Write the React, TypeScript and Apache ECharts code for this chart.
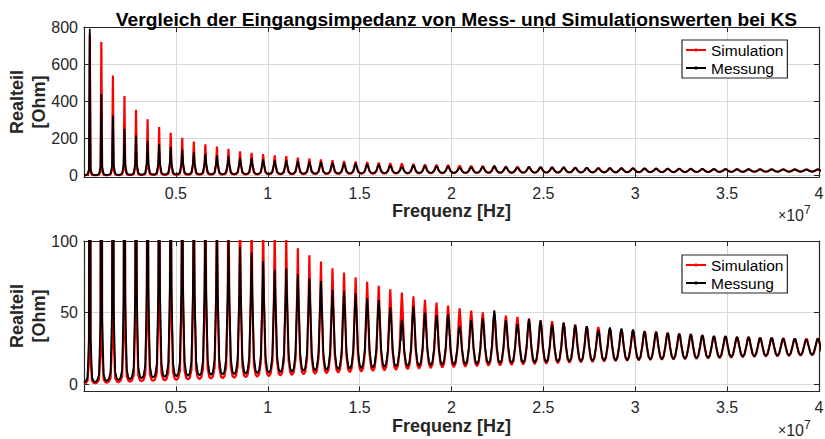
import React, { useEffect, useRef } from "react";
import * as echarts from "echarts";

// Resonance peak frequencies (unit: 1e7 Hz)
const peakFreq = [0.0315,0.0944,0.1573,0.2202,0.2831,0.3460,0.4089,0.4718,0.5347,0.5976,0.6605,0.7234,0.7863,0.8492,0.9121,0.9750,1.0379,1.1008,1.1637,1.2266,1.2895,1.3524,1.4153,1.4782,1.5411,1.6040,1.6669,1.7298,1.7927,1.8556,1.9185,1.9814,2.0443,2.1072,2.1701,2.2330,2.2959,2.3588,2.4217,2.4846,2.5475,2.6104,2.6733,2.7362,2.7991,2.8620,2.9249,2.9878,3.0507,3.1136,3.1765,3.2394,3.3023,3.3652,3.4281,3.4910,3.5539,3.6168,3.6797,3.7426,3.8055,3.8684,3.9313,3.9942];

// Simulation (red): peak, trough after the peak, and flank readings near / shoulder / foot of each peak
const simStart = 0.6;
const simPeak = [760,719,539,428,354,302,261,230,203,182,168,155,143,130,121,114,108,103,95,90,85.6,81,78,74.6,71.6,68.8,66.3,64,61.5,59,57,55,53,51.5,50.3,49.5,48,47,46,44.8,44,42.8,41.7,40.6,40,39,38.2,37.8,37,36.6,36,35.4,35,34.3,33.8,33.6,33.1,33,32.6,32.5,32.2,32,32,32];
const simTrough = [0.8,1.2,1.5,1.9,2.2,2.5,2.8,3.1,3.4,3.7,4.0,4.3,4.6,4.9,5.3,5.7,6.1,6.5,6.9,7.3,7.7,8.1,8.5,8.9,9.3,9.7,10.1,10.5,10.9,11.3,11.7,12.0,12.3,12.6,12.9,13.2,13.5,13.8,14.1,14.4,14.7,15.0,15.3,15.6,15.9,16.2,16.5,16.8,17.0,17.2,17.4,17.6,17.8,18.0,18.3,18.6,18.9,19.2,19.4,19.6,19.8,20.0,20.2,20.4];
const simNear = [16.5,24.4,29.9,36.7,41.2,45.1,48.5,51.4,53.6,55.3,57.0,58.2,58.9,58.8,59.4,59.9,60.2,60.4,59.2,58.5,57.8,56.7,56.2,55.1,54.3,53.4,52.5,51.5,50.4,49.2,48.1,47.0,45.8,44.9,44.2,43.8,42.8,42.2,41.5,40.7,40.2,39.3,38.5,37.7,37.3,36.6,36.0,35.7,35.0,34.7,34.3,33.8,33.5,32.9,32.5,32.4,32.0,31.9,31.6,31.5,31.3,31.1,31.1,31.2];
const simShoulder = [2.3,3.5,4.3,5.5,6.3,7.1,7.9,8.7,9.5,10.3,11.1,11.8,12.5,13.2,14.2,15.1,15.9,16.8,17.6,18.3,19.0,19.7,20.4,21.0,21.6,22.2,22.7,23.2,23.6,24.0,24.4,24.6,24.7,24.9,25.1,25.4,25.5,25.7,25.8,25.9,26.1,26.1,26.1,26.1,26.3,26.2,26.3,26.4,26.3,26.3,26.3,26.2,26.2,26.1,26.1,26.3,26.3,26.4,26.4,26.5,26.5,26.5,26.6,26.7];
const simFoot = [1.0,1.5,1.9,2.4,2.8,3.1,3.5,3.9,4.3,4.6,5.0,5.4,5.7,6.1,6.6,7.1,7.6,8.1,8.5,9.0,9.5,9.9,10.4,10.9,11.3,11.8,12.2,12.7,13.1,13.6,14.0,14.3,14.6,14.9,15.2,15.5,15.8,16.1,16.4,16.7,17.0,17.3,17.6,17.9,18.2,18.4,18.7,19.0,19.1,19.3,19.5,19.6,19.8,20.0,20.2,20.5,20.7,21.0,21.2,21.3,21.5,21.7,21.9,22.0];

// Messung (black)
const measStart = 1.2;
const measPeak = [790,438,322,250,215,187,168,153,139,126,116,108,102,96,92,86,80,81,77,74,72,66,65,63.5,60,58.8,53.7,45,54.5,50,48.3,49,40.6,44.8,46,51.7,44.8,42,45.5,44.4,41.8,43.2,41.3,40.6,37.8,39.6,38.9,38.2,37.3,36.6,36,35.4,35,34.3,33.6,33.6,33.1,33,32.6,32.6,32,32,31.2,32];
const measTrough = [1.6,2.4,3.0,3.6,4.2,4.7,5.1,5.5,5.9,6.2,6.5,6.8,7.0,7.3,7.7,8.0,8.4,8.8,9.2,9.6,10.0,10.4,10.8,11.2,11.6,12.0,12.3,12.6,12.9,13.2,13.5,13.8,14.0,14.2,14.4,14.6,14.8,15.0,15.2,15.4,15.6,15.8,16.0,16.2,16.4,16.6,16.8,17.0,17.2,17.4,17.6,17.8,18.0,18.3,18.6,18.9,19.2,19.4,19.6,19.8,20.0,20.2,20.4,20.6];
const measNear = [32.4,45.5,53.2,58.8,63.5,65.8,66.7,67.3,67.1,65.7,64.5,63.3,62.0,60.9,60.5,58.8,56.9,58.3,57.0,56.1,55.6,52.6,52.5,52.0,50.1,49.6,46.3,40.1,47.3,44.2,43.0,43.7,37.2,40.6,41.7,46.1,40.9,38.7,41.6,40.8,38.7,39.9,38.4,37.9,35.6,37.2,36.6,36.1,35.3,34.8,34.3,33.8,33.5,32.9,32.4,32.4,32.0,31.9,31.6,31.6,31.1,31.1,30.4,31.2];
const measShoulder = [4.6,6.9,8.5,10.1,11.7,13.0,14.0,14.9,15.8,16.4,17.0,17.6,17.9,18.5,19.2,19.7,20.3,21.1,21.7,22.3,22.9,23.2,23.8,24.3,24.6,25.0,24.8,23.8,25.8,25.5,25.5,26.0,24.5,25.7,26.2,27.5,26.3,25.9,26.9,26.9,26.5,27.0,26.7,26.7,26.1,26.8,26.7,26.7,26.6,26.5,26.4,26.4,26.4,26.3,26.3,26.5,26.5,26.6,26.5,26.6,26.5,26.6,26.4,26.9];
const measFoot = [2.0,3.0,3.8,4.5,5.3,5.9,6.4,6.9,7.4,7.7,8.1,8.4,8.7,9.0,9.5,9.8,10.3,10.8,11.2,11.7,12.2,12.6,13.0,13.5,13.9,14.4,14.6,14.8,15.3,15.6,15.9,16.2,16.2,16.5,16.8,17.1,17.2,17.3,17.6,17.8,17.9,18.2,18.3,18.5,18.6,18.9,19.0,19.2,19.3,19.5,19.7,19.8,20.0,20.2,20.5,20.8,21.0,21.2,21.4,21.5,21.7,21.9,22.0,22.2];
// measurement glitches [freq, value]
const measExtra = [[1.7225, 31.8], [1.7245, 30.5], [1.9895, 34.5], [1.992, 33.8]];

// Tick values / labels
const xTicks = [0.5, 1, 1.5, 2, 2.5, 3, 3.5, 4];
const yTicksTop = [0, 200, 400, 600, 800];
const yTicksBottom = [0, 50, 100];
const seriesNames = ["Simulation", "Messung"];
const titleText = "Vergleich der Eingangsimpedanz von Mess- und Simulationswerten bei KS";
const xName = "Frequenz [Hz]";
const yNameLines = ["Realteil", "[Ohm]"];

// flank offsets (in 1e7 Hz) relative to each peak
const OFF_NEAR = 0.0044;
const OFF_SHOULDER = 0.0126;
const OFF_FOOT = 0.022;
const OFF_HALF = 0.03145;

function buildCurve(start: number, peak: number[], trough: number[], near: number[], shoulder: number[], foot: number[], extra: number[][] = []) {
  const pts: number[][] = [[0, start]];
  peakFreq.forEach((f, i) => {
    pts.push([f - OFF_FOOT, foot[i]]);
    pts.push([f - OFF_SHOULDER, shoulder[i]]);
    pts.push([f - OFF_NEAR, near[i]]);
    pts.push([f, peak[i]]);
    pts.push([f + OFF_NEAR, near[i]]);
    pts.push([f + OFF_SHOULDER, shoulder[i]]);
    pts.push([f + OFF_FOOT, foot[i]]);
    pts.push([f + OFF_HALF, trough[i]]);
  });
  extra.forEach((p) => pts.push(p));
  pts.sort((a, b) => a[0] - b[0]);
  return pts;
}

const FONT = "'Liberation Sans', Arial, Helvetica, sans-serif";
const AX = "#262626";

export default function App() {
  const ref = useRef<HTMLDivElement>(null);
  useEffect(() => {
    if (!ref.current) return;
    const chart = echarts.init(ref.current, undefined, { renderer: "svg" });
    const sim = buildCurve(simStart, simPeak, simTrough, simNear, simShoulder, simFoot);
    const meas = buildCurve(measStart, measPeak, measTrough, measNear, measShoulder, measFoot, measExtra);

    const grids = [
      { left: 84, right: 6, top: 27, height: 150, outerBoundsMode: "none", containLabel: false },
      { left: 84, right: 6, top: 241, height: 150.5, outerBoundsMode: "none", containLabel: false },
    ];
    const yRanges = [
      { min: -9, max: 800, ticks: yTicksTop },
      { min: -5, max: 100, ticks: yTicksBottom },
    ];

    const xAxes: any[] = [];
    const yAxes: any[] = [];
    [0, 1].forEach((g) => {
      xAxes.push({
        type: "value", gridIndex: g, min: 0, max: 4, interval: 0.5, position: "bottom",
        axisLine: { show: true, onZero: false, lineStyle: { color: AX, width: 1.2 } },
        axisTick: { show: true, inside: true, length: 5, lineStyle: { color: AX } },
        axisLabel: { show: true, margin: 8, fontSize: 16, color: AX, fontFamily: FONT,
          formatter: (v: number) => (xTicks.indexOf(v) >= 0 ? String(v) : "") },
        splitLine: { show: true, lineStyle: { color: "#d9d9d9", width: 1 } },
        name: xName, nameLocation: "middle", nameGap: 25,
        nameTextStyle: { fontSize: 18, fontWeight: "bold", color: AX, fontFamily: FONT },
      });
      xAxes.push({
        type: "value", gridIndex: g, min: 0, max: 4, interval: 0.5, position: "top",
        axisLine: { show: true, onZero: false, lineStyle: { color: AX, width: 1.2 } },
        axisTick: { show: true, inside: true, length: 5, lineStyle: { color: AX } },
        axisLabel: { show: false }, splitLine: { show: false },
      });
      const yr = yRanges[g];
      yAxes.push({
        type: "value", gridIndex: g, min: yr.min, max: yr.max, position: "left",
        axisLine: { show: true, onZero: false, lineStyle: { color: AX, width: 1.2 } },
        axisTick: { show: true, inside: true, length: 5, lineStyle: { color: AX }, customValues: yr.ticks },
        axisLabel: { show: true, margin: 6, fontSize: 16, color: AX, fontFamily: FONT, customValues: yr.ticks },
        splitLine: { show: true, lineStyle: { color: "#d9d9d9", width: 1 } },
      });
      yAxes.push({
        type: "value", gridIndex: g, min: yr.min, max: yr.max, position: "right",
        axisLine: { show: true, onZero: false, lineStyle: { color: AX, width: 1.2 } },
        axisTick: { show: true, inside: true, length: 5, lineStyle: { color: AX }, customValues: yr.ticks },
        axisLabel: { show: false }, splitLine: { show: false },
      });
    });

    const series: any[] = [];
    [0, 1].forEach((g) => {
      series.push({
        name: seriesNames[0], type: "line", xAxisIndex: g * 2, yAxisIndex: g * 2,
        data: sim, showSymbol: false, symbol: "circle", symbolSize: 3,
        lineStyle: { color: "#ff0000", width: 2.2 }, itemStyle: { color: "#ff0000" },
        clip: true, silent: true, z: 2,
      });
      series.push({
        name: seriesNames[1], type: "line", xAxisIndex: g * 2, yAxisIndex: g * 2,
        data: meas, showSymbol: false, symbol: "circle", symbolSize: 3,
        lineStyle: { color: "#000000", width: 1.8 }, itemStyle: { color: "#000000" },
        clip: true, silent: true, z: 3,
      });
    });

    const legendBase = {
      orient: "vertical", left: 682, data: seriesNames,
      itemWidth: 20, itemHeight: 4, itemGap: 0,
      padding: [1, 4, 1, 3],
      backgroundColor: "#ffffff", borderColor: AX, borderWidth: 1.2,
      textStyle: { fontSize: 15.5, color: "#000", fontFamily: FONT, lineHeight: 18 },
      selectedMode: false,
    };

    const tenText = (top: number) => ({
      type: "text", left: 778, top,
      style: {
        text: "{a|×}{b|10}{c|7}",
        rich: {
          a: { fontSize: 14, fill: AX, fontFamily: FONT },
          b: { fontSize: 16, fill: AX, fontFamily: FONT },
          c: { fontSize: 12, fill: AX, fontFamily: FONT, verticalAlign: "top", padding: [0, 0, 10, 0] },
        },
      },
    });

    const yNameText = (text: string, x: number, y: number) => ({
      type: "text", x, y, rotation: Math.PI / 2,
      style: {
        text, fontSize: 18, fontWeight: "bold", fill: AX, fontFamily: FONT,
        textAlign: "center", textVerticalAlign: "middle",
      },
    });

    chart.setOption({
      animation: false,
      backgroundColor: "#ffffff",
      title: {
        text: titleText, left: 451.5, top: 5, textAlign: "center",
        textStyle: { fontSize: 19.2, fontWeight: "bold", color: "#000", fontFamily: FONT },
      },
      grid: grids,
      xAxis: xAxes,
      yAxis: yAxes,
      legend: [
        { ...legendBase, top: 40 },
        { ...legendBase, top: 255 },
      ],
      graphic: [
        tenText(204), tenText(419),
        yNameText(yNameLines[0], 17, 102), yNameText(yNameLines[1], 39, 102),
        yNameText(yNameLines[0], 17, 316), yNameText(yNameLines[1], 39, 316),
      ],
      series,
    });
    return () => chart.dispose();
  }, []);
  return <div ref={ref} style={{ position: "fixed", left: 0, top: 0, width: 825, height: 439 }} />;
}
